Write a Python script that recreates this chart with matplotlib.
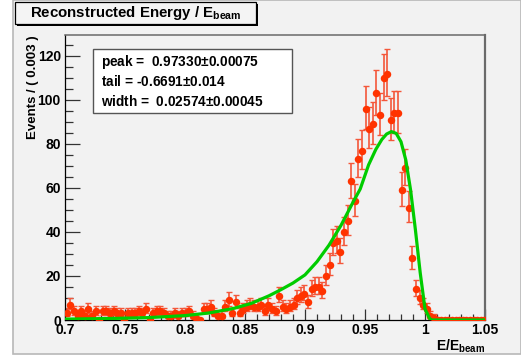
import numpy as np
import matplotlib
matplotlib.use("Agg")
import matplotlib.pyplot as plt
from matplotlib.patches import Rectangle
from matplotlib.ticker import FixedLocator, MultipleLocator

plt.rcParams["font.family"] = ["Liberation Sans", "DejaVu Sans"]
plt.rcParams["mathtext.default"] = "regular"

# binned data: 117 bins of 0.003 starting at 0.7
BIN_LO = 0.7
BIN_W = 0.003
counts = [
    3, 7, 4, 2, 4, 2, 5, 2, 4, 0,
    4, 4, 3, 4, 3, 3, 0, 3, 3, 3,
    4, 3, 5, 0, 3, 4, 4, 3, 2, 2,
    3, 2, 3, 3, 4, 2, 1, 0, 5, 5,
    6, 3, 2, 2, 6, 9, 3, 8, 3, 5,
    6, 7, 6, 6, 7, 4, 7, 5, 4, 11,
    6, 5, 6, 7, 10, 11, 12, 8, 14, 15,
    15, 13, 20, 25, 35, 36, 31, 40, 45, 63,
    54, 73, 77, 96, 87, 89, 103, 93, 110, 112,
    91, 94, 94, 59, 69, 51, 28, 14, 10, 7,
    5, 2, 1, 0, 0, 0, 0, 0, 0, 0,
    0, 0, 0, 0, 0, 0, 0,
]

# fitted curve
curve_x = [0.700, 0.740, 0.770, 0.800, 0.820, 0.840, 0.855, 0.870, 0.880, 0.890,
           0.900, 0.910, 0.920, 0.930, 0.940, 0.946, 0.953, 0.959, 0.964, 0.968,
           0.972, 0.976, 0.980, 0.984, 0.988, 0.992, 0.996, 1.000, 1.004, 1.006, 1.050]
curve_y = [0.4, 0.7, 1.1, 2.0, 3.2, 5.2, 7.5, 11.0, 13.8, 16.8,
           20.5, 26.5, 34.0, 43.0, 53.5, 59.5, 70.5, 77.5, 82.0, 84.5,
           85.6, 84.8, 81.0, 72.7, 59.0, 41.0, 21.5, 5.0, 0.5, 0.0, 0.0]

x_ticks = [0.7, 0.75, 0.8, 0.85, 0.9, 0.95, 1.0, 1.05]
x_tick_labels = ["0.7", "0.75", "0.8", "0.85", "0.9", "0.95", "1", "1.05"]
y_ticks = [0, 20, 40, 60, 80, 100, 120]

title = "Reconstructed Energy / E$_{beam}$"
fit_lines = [
    "peak =  0.97330$\\pm$0.00075",
    "tail = -0.6691$\\pm$0.014",
    "width =  0.02574$\\pm$0.00045",
]

W, H = 521, 358
PAD_BG = "#f2f2f2"
RED = "#ff3300"
GREEN = "#00cc00"


def fx(px):
    return px / W


def fy(py):
    return 1 - py / H


fig = plt.figure(figsize=(W / 100, H / 100), dpi=100)
fig.patch.set_facecolor("white")

# ROOT pad background with bevel
fig.patches.append(Rectangle((fx(13), fy(354)), fx(W - 13), 354 / H, transform=fig.transFigure,
                             facecolor=PAD_BG, edgecolor="#b8b8b8", linewidth=1.2, zorder=-5))

ax = fig.add_axes([fx(65), fy(320), fx(485 - 65), (320 - 35) / H])
ax.set_facecolor(PAD_BG)
ax.set_zorder(1)

n = np.array(counts, dtype=float)
centers = BIN_LO + BIN_W * (np.arange(len(n)) + 0.5)
err_lo = np.where(n > 0, np.sqrt(n + 0.25) - 0.5, 0.0)
err_hi = np.sqrt(n + 0.25) + 0.5

ax.errorbar(centers, n, yerr=[err_lo, err_hi], fmt="none", ecolor="#f4573a",
            elinewidth=1.2, capsize=2.0, capthick=1.0, zorder=2)
ax.plot(centers, n, "o", color=RED, markersize=5.4, markeredgewidth=0, zorder=3)
ax.plot(curve_x, curve_y, color=GREEN, linewidth=2.3, zorder=4, solid_joinstyle="round")

ax.set_xlim(0.7, 1.05)
ax.set_ylim(0, 129.5)

ax.xaxis.set_major_locator(FixedLocator(x_ticks))
ax.set_xticklabels(x_tick_labels)
ax.xaxis.set_minor_locator(MultipleLocator(0.01))
ax.set_yticks(y_ticks)
ax.yaxis.set_minor_locator(MultipleLocator(5))

ax.tick_params(axis="both", which="both", direction="in", top=False, right=False, color="#333333")
ax.tick_params(axis="x", which="major", length=8, width=0.9, pad=2, labelsize=10)
ax.tick_params(axis="x", which="minor", length=4, width=0.9)
ax.tick_params(axis="y", which="major", length=11, width=0.9, pad=3, labelsize=10)
ax.tick_params(axis="y", which="minor", length=6, width=0.9)
for lab in ax.get_xticklabels() + ax.get_yticklabels():
    lab.set_fontweight("bold")

ax.spines["left"].set_color("black")
ax.spines["bottom"].set_color("black")
ax.spines["left"].set_linewidth(0.9)
ax.spines["bottom"].set_linewidth(0.9)
ax.spines["top"].set_color("#6a6a6a")
ax.spines["right"].set_color("#6a6a6a")
ax.spines["top"].set_linewidth(1.1)
ax.spines["right"].set_linewidth(1.6)

ax.text(-0.077, 1.0, "Events / ( 0.003 )", transform=ax.transAxes, rotation=90,
        ha="center", va="top", fontsize=9.5, fontweight="bold")
ax.text(1.0, -0.062, "E/E$_{beam}$", transform=ax.transAxes, ha="right", va="top",
        fontsize=10, fontweight="bold")

# fit parameter box
box_l, box_r, box_t, box_b = 93, 292, 49, 113
fig.patches.append(Rectangle((fx(box_l), fy(box_b)), fx(box_r - box_l), (box_b - box_t) / H,
                             transform=fig.transFigure, facecolor="white", edgecolor="#555555",
                             linewidth=1.0, zorder=5))
for k, line in enumerate(fit_lines):
    fig.text(fx(101), fy(62 + 20 * k), line, ha="left", va="center", fontsize=9.8,
             fontweight="bold", zorder=6)

# title box with shadow
t_l, t_r, t_t, t_b = 15, 256, 2, 24
fig.patches.append(Rectangle((fx(t_l + 2), fy(t_b + 2)), fx(t_r - t_l), (t_b - t_t) / H,
                             transform=fig.transFigure, facecolor="black", edgecolor="none", zorder=5))
fig.patches.append(Rectangle((fx(t_l), fy(t_b)), fx(t_r - t_l), (t_b - t_t) / H,
                             transform=fig.transFigure, facecolor="#f4f4f4", edgecolor="black",
                             linewidth=0.9, zorder=6))
fig.text(fx((t_l + t_r) / 2), fy(13), title, ha="center", va="center", fontsize=10.8,
         fontweight="bold", zorder=7)

fig.savefig("out.png", dpi=100)
